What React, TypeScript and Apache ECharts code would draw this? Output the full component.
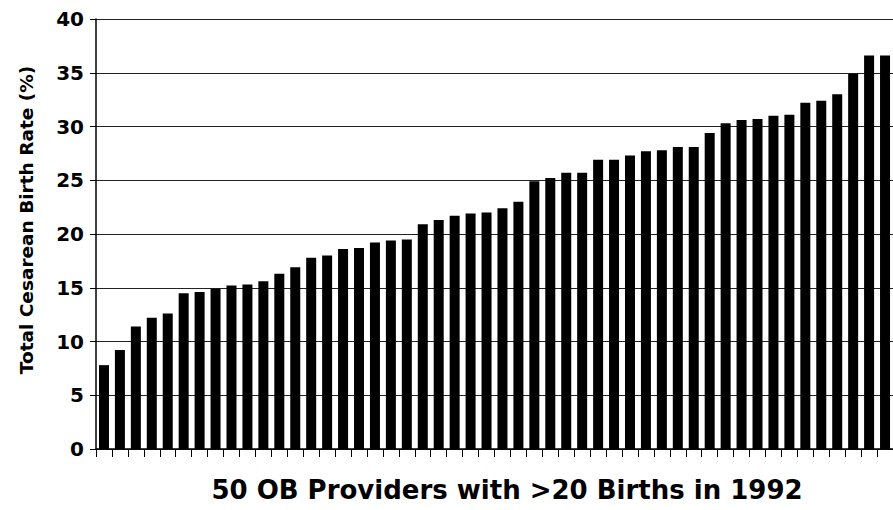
import React, { useEffect, useRef } from "react";
import * as echarts from "echarts";

const providers: string[] = Array.from({ length: 50 }, (_, i) => `P${i + 1}`);
const cesareanRates: number[] = [
  7.8, 9.2, 11.4, 12.2, 12.6, 14.5, 14.6, 14.9, 15.2, 15.3,
  15.6, 16.3, 16.9, 17.8, 18.0, 18.6, 18.7, 19.2, 19.4, 19.5,
  20.9, 21.3, 21.7, 21.9, 22.0, 22.4, 23.0, 24.9, 25.2, 25.7,
  25.7, 26.9, 26.9, 27.3, 27.7, 27.8, 28.1, 28.1, 29.4, 30.3,
  30.6, 30.7, 31.0, 31.1, 32.2, 32.4, 33.0, 34.9, 36.6, 36.6,
];
const yTicks = { min: 0, max: 40, interval: 5 };
const yTitle = "Total Cesarean Birth Rate (%)";
const xTitle = "50 OB Providers with >20 Births in 1992";

const FONT = "'DejaVu Sans', 'Liberation Sans', Arial, sans-serif";

export default function App() {
  const ref = useRef<HTMLDivElement>(null);
  useEffect(() => {
    document.body.style.margin = "0";
    if (!ref.current) return;
    const chart = echarts.init(ref.current, null, { renderer: "svg" });
    chart.setOption({
      animation: false,
      backgroundColor: "#ffffff",
      grid: { left: 96, top: 19, width: 800, height: 430, containLabel: false },
      xAxis: {
        type: "category",
        data: providers,
        boundaryGap: true,
        axisLine: { show: true, lineStyle: { color: "#000", width: 1.5 } },
        axisTick: { show: true, interval: 0, length: 8, lineStyle: { color: "#000", width: 1 } },
        axisLabel: { show: false },
        splitLine: { show: false },
      },
      yAxis: {
        type: "value",
        min: yTicks.min,
        max: yTicks.max,
        interval: yTicks.interval,
        axisLine: { show: true, lineStyle: { color: "#000", width: 1.5 } },
        axisTick: { show: true, length: 6, lineStyle: { color: "#000", width: 1 } },
        axisLabel: {
          color: "#000",
          fontSize: 20,
          fontWeight: "bold",
          fontFamily: FONT,
          margin: 12,
        },
        splitLine: { show: true, lineStyle: { color: "#222", width: 1 } },
      },
      series: [
        {
          type: "bar",
          data: cesareanRates,
          barWidth: 10,
          itemStyle: { color: "#000" },
        },
      ],
      graphic: [
        {
          type: "text",
          x: 26,
          y: 220,
          rotation: Math.PI / 2,
          style: {
            text: yTitle,
            fontSize: 18.5,
            fontWeight: "bold",
            fontFamily: FONT,
            fill: "#000",
            align: "center",
            verticalAlign: "middle",
          },
        },
        {
          type: "text",
          x: 507,
          y: 490,
          style: {
            text: xTitle,
            fontSize: 26,
            fontWeight: "bold",
            fontFamily: FONT,
            fill: "#000",
            align: "center",
            verticalAlign: "middle",
          },
        },
      ],
    });
    return () => chart.dispose();
  }, []);
  return <div ref={ref} style={{ width: 893, height: 510 }} />;
}
